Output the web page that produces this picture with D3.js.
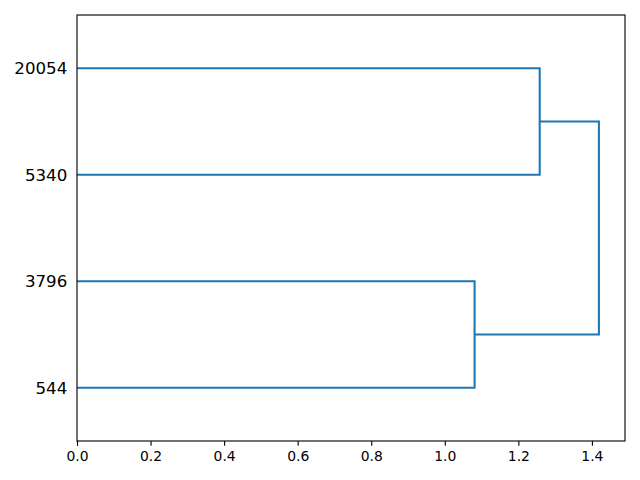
<!DOCTYPE html>
<html>
<head>
<meta charset="utf-8">
<script src="https://cdn.jsdelivr.net/npm/d3@7"></script>
<style>
  body { margin: 0; background: #fff; }
  text { font-family: "DejaVu Sans", sans-serif; }
</style>
</head>
<body>
<div id="chart"></div>
<script>
// leaves listed bottom to top
const leaves = ["544", "3796", "5340", "20054"];
// merges: clusters 0..3 are leaves, 4.. are merged clusters
const mergeA = [0, 2, 4];
const mergeB = [1, 3, 5];
const mergeH = [1.081, 1.258, 1.419];
const xTicks = [0, 0.2, 0.4, 0.6, 0.8, 1.0, 1.2, 1.4];

const W = 640, H = 480;
const m = { left: 77, right: 15, top: 15, bottom: 39 };

const svg = d3.select("#chart")
    .append("svg")
    .attr("width", W)
    .attr("height", H);

const maxH = d3.max(mergeH);
const x = d3.scaleLinear()
    .domain([0, maxH * 1.05])
    .range([m.left, W - m.right]);

const y = d3.scaleLinear()
    .domain([0, leaves.length * 10])
    .range([H - m.bottom, m.top]);

// position and height of every cluster
const pos = leaves.map((d, i) => 5 + 10 * i);
const hgt = leaves.map(() => 0);
mergeA.forEach((a, i) => {
    const b = mergeB[i];
    pos.push((pos[a] + pos[b]) / 2);
    hgt.push(mergeH[i]);
});

// links
mergeA.forEach((a, i) => {
    const b = mergeB[i];
    const h = mergeH[i];
    const p = d3.path();
    p.moveTo(x(hgt[a]), y(pos[a]));
    p.lineTo(x(h), y(pos[a]));
    p.lineTo(x(h), y(pos[b]));
    p.lineTo(x(hgt[b]), y(pos[b]));
    svg.append("path")
        .attr("d", p.toString())
        .attr("fill", "none")
        .attr("stroke", "#1f77b4")
        .attr("stroke-width", 2.08);
});

// x axis
const xAxis = svg.append("g")
    .attr("transform", `translate(0,${H - m.bottom})`)
    .call(d3.axisBottom(x).tickValues(xTicks).tickFormat(d3.format(".1f"))
        .tickSize(4.86).tickPadding(4.86));
xAxis.selectAll("text").style("font-size", "13.9px").attr("fill", "#000");
xAxis.selectAll("line").attr("stroke", "#000").attr("stroke-width", 1.11);
xAxis.select(".domain").remove();

// y axis (leaf labels, no tick marks)
const yAxis = svg.append("g")
    .attr("transform", `translate(${m.left},0)`)
    .call(d3.axisLeft(y).tickValues(pos.slice(0, leaves.length))
        .tickFormat((d, i) => leaves[i]).tickSize(0).tickPadding(9.7));
yAxis.selectAll("text").style("font-size", "16.67px").attr("fill", "#000");
yAxis.select(".domain").remove();

// frame
svg.append("rect")
    .attr("x", m.left)
    .attr("y", m.top)
    .attr("width", W - m.left - m.right)
    .attr("height", H - m.top - m.bottom)
    .attr("fill", "none")
    .attr("stroke", "#000")
    .attr("stroke-width", 1.11);
</script>
</body>
</html>
